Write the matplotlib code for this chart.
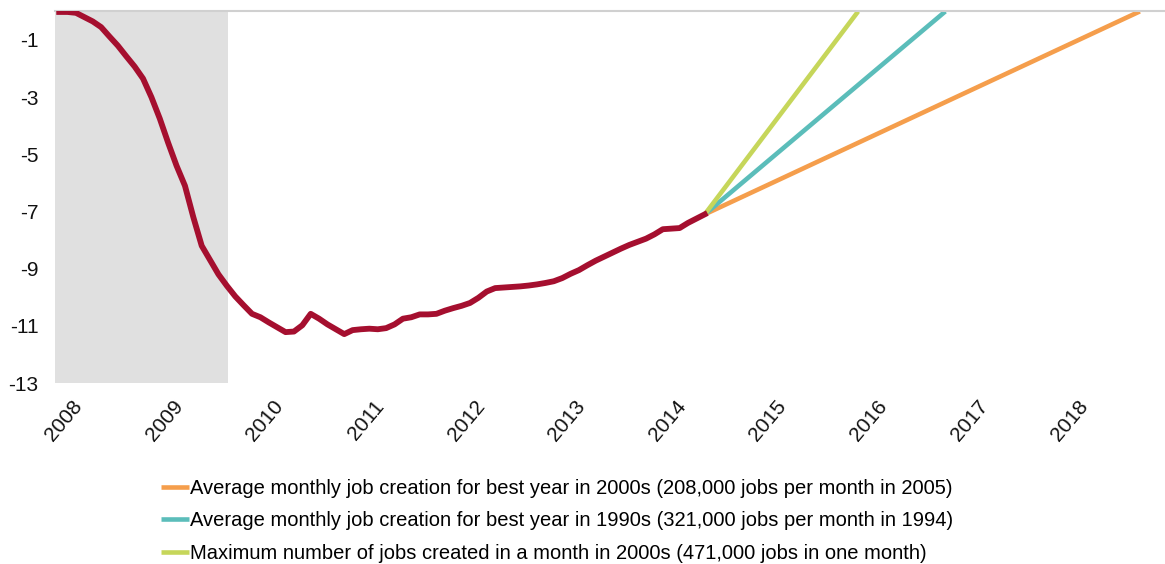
import matplotlib
matplotlib.use("Agg")
import matplotlib.pyplot as plt
import matplotlib.transforms as mtransforms
import numpy as np

plt.rcParams['font.family'] = ['Liberation Sans', 'DejaVu Sans']
plt.rcParams['axes.unicode_minus'] = False

# Jobs gap (millions), monthly from Jan 2008
gap = [-0.02, -0.02, -0.05, -0.2, -0.35, -0.55, -0.88, -1.2, -1.57, -1.93,
       -2.35, -3.0, -3.75, -4.6, -5.4, -6.1, -7.2, -8.2, -8.7, -9.2,
       -9.6, -9.97, -10.28, -10.58, -10.7, -10.88, -11.05, -11.22, -11.2, -10.98,
       -10.58, -10.75, -10.95, -11.12, -11.29, -11.15, -11.12, -11.1, -11.12, -11.08,
       -10.95, -10.75, -10.7, -10.6, -10.6, -10.58, -10.47, -10.38, -10.3, -10.2,
       -10.02, -9.8, -9.68, -9.66, -9.64, -9.62, -9.59, -9.55, -9.5, -9.44,
       -9.33, -9.18, -9.05, -8.88, -8.72, -8.58, -8.44, -8.3, -8.17, -8.06,
       -7.95, -7.8, -7.62, -7.6, -7.58, -7.4, -7.25, -7.1]
months = np.arange(len(gap)) + 0.5

# projections: month where gap closes
proj_labels = ["Average monthly job creation for best year in 2000s (208,000 jobs per month in 2005)",
               "Average monthly job creation for best year in 1990s (321,000 jobs per month in 1994)",
               "Maximum number of jobs created in a month in 2000s (471,000 jobs in one month)"]
proj_end = [129.4, 106.2, 95.8]
proj_colors = ["#F59E4C", "#5BBDBA", "#C6D65A"]

recession_end = 20.6
years = list(range(2008, 2019))

fig = plt.figure(figsize=(11.65, 5.64), dpi=100)
ax = fig.add_axes([55/1165, 1-383/564, 1-55/1165, (383-11.4)/564])

ax.axvspan(0, recession_end, color="#E0E0E0", lw=0, zorder=0)

handles = []
for lab, end, col in zip(proj_labels, proj_end, proj_colors):
    h, = ax.plot([months[-1], end], [gap[-1], 0], color=col, lw=3.3,
                 solid_capstyle="butt", label=lab, zorder=2)
    handles.append(h)

ax.plot(months, gap, color="#A50F2F", lw=4.2, solid_joinstyle="round", zorder=3)

ax.set_xlim(0, 132.4)
ax.set_ylim(-13, 0)
ax.set_yticks([-1, -3, -5, -7, -9, -11, -13])
ax.set_xticks([(y - 2008) * 12 for y in years])
ax.set_xticklabels([str(y) for y in years], rotation=50, ha="center", va="top")
ax.tick_params(length=0, colors="#111111")
ax.tick_params(axis="y", pad=12, labelsize=15)
ax.tick_params(axis="x", pad=10, labelsize=15)
shift = mtransforms.ScaledTranslation(9/100, 0, fig.dpi_scale_trans)
for lbl in ax.get_xticklabels():
    lbl.set_transform(lbl.get_transform() + shift)
for s in ["left", "right", "bottom"]:
    ax.spines[s].set_visible(False)
ax.spines["top"].set_color("#D0D0D0")
ax.spines["top"].set_linewidth(1.5)

fig.legend(handles=handles, loc="upper left", bbox_to_anchor=(143/1165, 1-461/564),
           frameon=False, handlelength=1.4, handletextpad=0.05, labelspacing=0.66,
           prop={"size": 14.5})

fig.savefig("out.png", dpi=100)
